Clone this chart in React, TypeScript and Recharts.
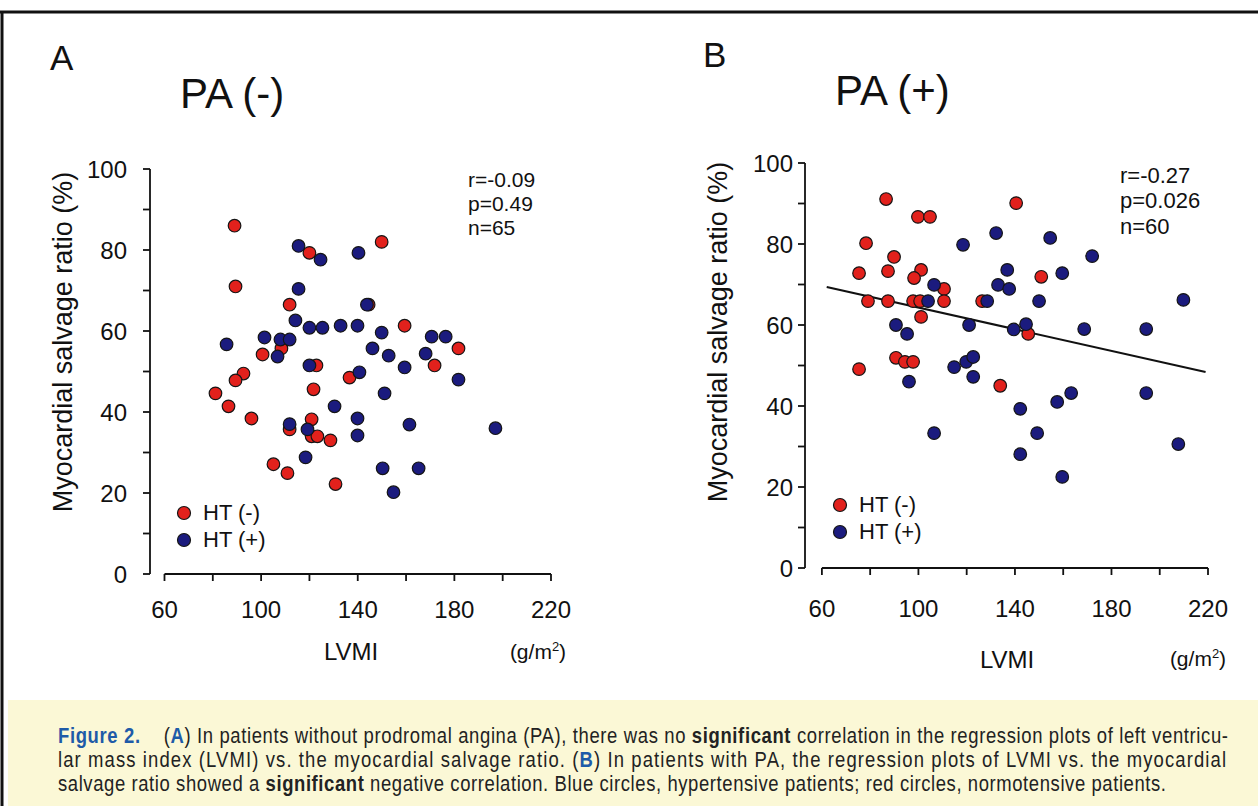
import React from "react";
import { ScatterChart, Scatter, XAxis, YAxis, ReferenceLine, Legend } from "recharts";

const FONT = '"Liberation Sans", Arial, Helvetica, sans-serif';
const RED = "#e2211c";
const BLUE = "#1b1b7e";
const CAPTION_BLUE = "#1e5ba8";

// ticks
const xTicks = [60, 80, 100, 120, 140, 160, 180, 200, 220];
const xTickLabels = [60, 100, 140, 180, 220];
const yTicks = [0, 10, 20, 30, 40, 50, 60, 70, 80, 90, 100];
const yTickLabels = [0, 20, 40, 60, 80, 100];

// panel A, PA (-): HT (-) red, HT (+) blue  [LVMI, salvage %]
const paNegHtNeg: number[][] = [
  [89, 86], [89.4, 71], [120, 79.3], [111.8, 66.5], [108.4, 55.7], [100.6, 54.2],
  [122.9, 51.5], [92.7, 49.5], [89.4, 47.8], [136.6, 48.5], [81.1, 44.6], [121.7, 45.6],
  [149.9, 82], [144.5, 66.5], [159.4, 61.3], [181.7, 55.7], [171.8, 51.5], [86.5, 41.4],
  [96, 38.4], [111.8, 35.7], [120.9, 38.2], [120.9, 34], [123.3, 34], [128.7, 33],
  [105.1, 27.1], [110.9, 24.9], [130.8, 22.2],
];
const paNegHtPos: number[][] = [
  [115.5, 81], [124.6, 77.6], [115.5, 70.4], [114.2, 62.6], [120, 60.8], [125.4, 60.8],
  [132.9, 61.3], [139.9, 61.3], [85.7, 56.7], [101.4, 58.4], [108, 57.9], [111.8, 57.9],
  [106.8, 53.7], [120, 51.5], [140.3, 79.3], [143.8, 66.5], [149.9, 59.6], [170.6, 58.6],
  [176.4, 58.6], [146.1, 55.7], [152.8, 53.9], [168.1, 54.4], [159.4, 51], [140.7, 49.8],
  [181.7, 48], [151.1, 44.6], [130.4, 41.4], [111.8, 37], [119.2, 35.7], [118.4, 28.8],
  [139.9, 38.4], [139.9, 34.2], [161.4, 36.9], [197, 36], [150.3, 26.1], [165.2, 26.1],
  [154.8, 20.2],
];

// panel B, PA (+)
const paPosHtNeg: number[][] = [
  [86.6, 91.1], [99.8, 86.7], [104.8, 86.7], [78.3, 80.2], [89.9, 76.8], [75.4, 72.8],
  [87.4, 73.3], [101.1, 73.6], [98.2, 71.6], [110.6, 68.9], [79.1, 65.9], [87.4, 65.9],
  [97.8, 65.9], [100.7, 65.9], [110.6, 65.9], [126.4, 65.9], [101.1, 62], [90.7, 51.9],
  [94.4, 50.9], [97.8, 50.9], [75.4, 49.1], [140.5, 90.1], [150.9, 71.9], [145.5, 57.8],
  [133.9, 45],
];
const paPosHtPos: number[][] = [
  [118.5, 79.8], [132.2, 82.7], [136.8, 73.6], [133, 69.9], [137.6, 68.9], [106.5, 69.9],
  [104, 65.9], [128.5, 65.9], [90.7, 60], [95.3, 57.8], [121, 60], [139.5, 58.9],
  [114.8, 49.6], [119.8, 50.9], [122.7, 52.1], [154.6, 81.5], [172, 77], [159.6, 72.8],
  [150, 65.9], [209.8, 66.2], [144.6, 60.2], [168.7, 59], [194.4, 59], [96.1, 46],
  [122.7, 47.2], [142.2, 39.3], [106.5, 33.3], [142.2, 28.1], [149.2, 33.3], [157.5, 41],
  [163.3, 43.2], [194.4, 43.2], [207.7, 30.6], [159.6, 22.5],
];
// regression line endpoints
const paPosFit: number[][] = [[62, 69.4], [219, 48.4]];

const legendOrder = ["HT (-)", "HT (+)"];

const toPoints = (rows: number[][]) => rows.map(([lvmi, salvage]) => ({ lvmi, salvage }));

const Dot = (p: any) => (
  <circle cx={p.cx} cy={p.cy} r={6.3} fill={p.fill} stroke="#151515" strokeWidth={1.2} />
);

const LegendBox = ({ payload }: any) => {
  const items = (payload || [])
    .filter((e: any) => legendOrder.includes(e.value))
    .sort((a: any, b: any) => legendOrder.indexOf(a.value) - legendOrder.indexOf(b.value));
  return (
    <div style={{ fontFamily: FONT, fontSize: 22, color: "#111" }}>
      {items.map((e: any, i: number) => (
        <div key={i} style={{ display: "flex", alignItems: "center", height: 27.5 }}>
          <svg width={16} height={16}>
            <circle cx={8} cy={8} r={6.5} fill={e.color} stroke="#151515" strokeWidth={1.2} />
          </svg>
          <span style={{ marginLeft: 11, lineHeight: "22px" }}>{e.value}</span>
        </div>
      ))}
    </div>
  );
};

type PanelProps = {
  left: number;
  margin: { top: number; right: number; bottom: number; left: number };
  xMin: number;
  htNeg: number[][];
  htPos: number[][];
  fit?: number[][];
  legendPos: { left: number; top: number };
  yTickMargin: number;
  xTickMargin: number;
};

function Panel({ left, margin, xMin, htNeg, htPos, fit, legendPos, yTickMargin, xTickMargin }: PanelProps) {
  const tickStyle = { fill: "#111", fontSize: 24, fontFamily: FONT };
  return (
    <div style={{ position: "absolute", left, top: 0 }}>
      <ScatterChart width={620} height={700} margin={margin}>
        <XAxis
          type="number"
          dataKey="lvmi"
          domain={[xMin, 220]}
          allowDataOverflow
          ticks={xTicks}
          interval={0}
          tickFormatter={(v: number) => (xTickLabels.includes(v) ? String(v) : "")}
          axisLine={false}
          tickLine={{ stroke: "#111", strokeWidth: 1.8 }}
          tickSize={7}
          tickMargin={xTickMargin}
          tick={tickStyle}
          height={40}
        />
        <YAxis
          type="number"
          dataKey="salvage"
          domain={[0, 100]}
          ticks={yTicks}
          interval={0}
          tickFormatter={(v: number) => (yTickLabels.includes(v) ? String(v) : "")}
          axisLine={{ stroke: "#111", strokeWidth: 1.8 }}
          tickLine={{ stroke: "#111", strokeWidth: 1.8 }}
          tickSize={7}
          tickMargin={yTickMargin}
          tick={tickStyle}
          width={60}
        />
        <ReferenceLine
          segment={[{ x: 60, y: 0 }, { x: 220, y: 0 }]}
          stroke="#111"
          strokeWidth={1.8}
          ifOverflow="visible"
        />
        {fit && (
          <Scatter
            data={toPoints(fit)}
            line={{ stroke: "#111", strokeWidth: 2 }}
            shape={() => <g />}
            legendType="none"
            isAnimationActive={false}
          />
        )}
        <Scatter name="HT (-)" data={toPoints(htNeg)} fill={RED} shape={Dot} isAnimationActive={false} />
        <Scatter name="HT (+)" data={toPoints(htPos)} fill={BLUE} shape={Dot} isAnimationActive={false} />
        <Legend
          layout="horizontal"
          verticalAlign="middle"
          align="center"
          content={<LegendBox />}
          wrapperStyle={{ left: legendPos.left, top: legendPos.top, width: 120, height: 60 }}
        />
      </ScatterChart>
    </div>
  );
}

const txt = { fontFamily: FONT, fill: "#111" } as const;

// caption drawn in Arial squeezed horizontally, like a condensed face
const SQUEEZE = 0.84;
const CaptionLine = ({ y, width, children }: { y: number; width: number; children: React.ReactNode }) => (
  <text
    transform={`translate(58 ${y}) scale(${SQUEEZE} 1)`}
    x={0}
    y={0}
    textLength={width / SQUEEZE}
    lengthAdjust="spacing"
  >
    {children}
  </text>
);

export default function App() {
  return (
    <div style={{ position: "absolute", left: 0, top: 0, width: 1258, height: 806, background: "#fff", overflow: "hidden" }}>
      <svg width={1258} height={806} style={{ position: "absolute", left: 0, top: 0 }}>
        <rect x={8} y={700} width={1250} height={106} fill="#fbf8d6" />
        <line x1={0} y1={12} x2={1258} y2={12} stroke="#111" strokeWidth={3} />
        <line x1={2} y1={12} x2={2} y2={806} stroke="#111" strokeWidth={3} />
      </svg>

      <Panel
        left={0}
        margin={{ top: 169, right: 69, bottom: 86, left: 90 }}
        xMin={54}
        htNeg={paNegHtNeg}
        htPos={paNegHtPos}
        legendPos={{ left: 176, top: 499 }}
        yTickMargin={16}
        xTickMargin={20}
      />
      <Panel
        left={650}
        margin={{ top: 163, right: 62, bottom: 92, left: 95 }}
        xMin={53}
        htNeg={paPosHtNeg}
        htPos={paPosHtPos}
        fit={paPosFit}
        legendPos={{ left: 182, top: 491 }}
        yTickMargin={5}
        xTickMargin={25}
      />

      <svg width={1258} height={806} style={{ position: "absolute", left: 0, top: 0, pointerEvents: "none" }}>
        {/* panel A labels */}
        <text x={50} y={70} fontSize={35} {...txt}>A</text>
        <text x={180} y={108} fontSize={42} {...txt}>PA (-)</text>
        <text x={468} y={187} fontSize={21} {...txt}>r=-0.09</text>
        <text x={468} y={211} fontSize={21} {...txt}>p=0.49</text>
        <text x={468} y={235} fontSize={21} {...txt}>n=65</text>
        <text x={63} y={342} fontSize={27} textAnchor="middle" dominantBaseline="central" transform="rotate(-90 63 342)" {...txt}>
          Myocardial salvage ratio (%)
        </text>
        <text x={351} y={660} fontSize={24} textAnchor="middle" {...txt}>LVMI</text>
        <text x={538} y={659} fontSize={21} textAnchor="middle" {...txt}>
          (g/m<tspan fontSize={13} dy={-8}>2</tspan><tspan dy={8}>)</tspan>
        </text>

        {/* panel B labels */}
        <text x={703} y={67} fontSize={35} {...txt}>B</text>
        <text x={835} y={105} fontSize={42} {...txt}>PA (+)</text>
        <text x={1120} y={183} fontSize={22} {...txt}>r=-0.27</text>
        <text x={1120} y={208} fontSize={22} {...txt}>p=0.026</text>
        <text x={1120} y={234} fontSize={22} {...txt}>n=60</text>
        <text x={718} y={332} fontSize={27} textAnchor="middle" dominantBaseline="central" transform="rotate(-90 718 332)" {...txt}>
          Myocardial salvage ratio (%)
        </text>
        <text x={1007} y={668} fontSize={24} textAnchor="middle" {...txt}>LVMI</text>
        <text x={1198} y={666} fontSize={21} textAnchor="middle" {...txt}>
          (g/m<tspan fontSize={13} dy={-8}>2</tspan><tspan dy={8}>)</tspan>
        </text>

        {/* caption */}
        <g fontFamily={FONT} fontSize={22} fill="#222">
          <CaptionLine y={743} width={1170}>
            <tspan fontWeight="bold" fill={CAPTION_BLUE}>Figure 2.</tspan>
            <tspan>{"\u00a0\u00a0\u00a0\u00a0("}</tspan>
            <tspan fontWeight="bold" fill={CAPTION_BLUE}>A</tspan>
            <tspan>) In patients without prodromal angina (PA), there was no </tspan>
            <tspan fontWeight="bold">significant</tspan>
            <tspan> correlation in the regression plots of left ventricu-</tspan>
          </CaptionLine>
          <CaptionLine y={767} width={1168}>
            <tspan>lar mass index (LVMI) vs. the myocardial salvage ratio. (</tspan>
            <tspan fontWeight="bold" fill={CAPTION_BLUE}>B</tspan>
            <tspan>) In patients with PA, the regression plots of LVMI vs. the myocardial</tspan>
          </CaptionLine>
          <CaptionLine y={791} width={1108}>
            <tspan>salvage ratio showed a </tspan>
            <tspan fontWeight="bold">significant</tspan>
            <tspan> negative correlation. Blue circles, hypertensive patients; red circles, normotensive patients.</tspan>
          </CaptionLine>
        </g>
      </svg>
    </div>
  );
}
